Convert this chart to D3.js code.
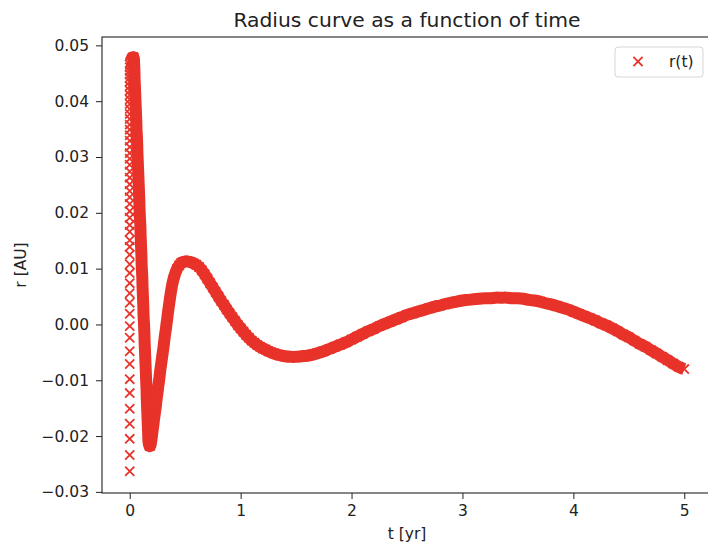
<!DOCTYPE html>
<html>
<meta charset="utf-8">
<head>
    <script src="https://d3js.org/d3.v7.min.js"></script>
</head>

<style>
  body { margin: 0; background: #fff; }
  svg text {
  font-family: "DejaVu Sans", sans-serif;
  fill: #222;
  }
  svg .tick line { stroke: #222; }
  svg .tick text { font-size: 15.5px; }
  svg .marker {
  fill: none;
  stroke: #e8332a;
  stroke-width: 1.8;
  }
  svg .band {
  fill: none;
  stroke: #e8332a;
  stroke-width: 12;
  stroke-linejoin: round;
  }
</style>

<body>
    <script>

        // r [AU] at t = 0, the first steps of the run
        var launchR = [-0.0263, -0.0234, -0.0205, -0.0178, -0.0151, -0.0123, -0.0098, -0.0071, -0.0048, -0.0024,
            -0.0003, 0.0019, 0.0039, 0.0056, 0.0074, 0.0092, 0.0108, 0.0125, 0.0139, 0.0151,
            0.0166, 0.0178, 0.0191, 0.0203, 0.0216, 0.0228, 0.0239, 0.0251, 0.0263, 0.0274,
            0.0286, 0.0297, 0.0307, 0.0318, 0.0329, 0.0339, 0.0349, 0.0358, 0.0368, 0.0377,
            0.0386, 0.0395, 0.0403, 0.0411, 0.0419, 0.0427, 0.0435, 0.0442, 0.0448, 0.0454,
            0.0461, 0.0466];

        // [t, r] over the top of the spike, down into the dip and back up
        var spike = [[0.008, 0.0471], [0.016, 0.0475], [0.025, 0.0478], [0.032, 0.0479], [0.036, 0.0478],
            [0.039, 0.047], [0.041, 0.046], [0.043, 0.045], [0.044, 0.044], [0.046, 0.043], [0.048, 0.042],
            [0.050, 0.041], [0.052, 0.040], [0.054, 0.039], [0.056, 0.038], [0.058, 0.037], [0.060, 0.036],
            [0.061, 0.035], [0.064, 0.034], [0.066, 0.033], [0.068, 0.032], [0.069, 0.031], [0.071, 0.030],
            [0.073, 0.029], [0.075, 0.028], [0.077, 0.027], [0.079, 0.026], [0.081, 0.025], [0.083, 0.024],
            [0.085, 0.023], [0.087, 0.022], [0.088, 0.021], [0.090, 0.020], [0.092, 0.019], [0.095, 0.018],
            [0.097, 0.017], [0.098, 0.016], [0.100, 0.015], [0.102, 0.014], [0.104, 0.013], [0.106, 0.012],
            [0.107, 0.011], [0.109, 0.010], [0.112, 0.009], [0.114, 0.008], [0.115, 0.007], [0.117, 0.006],
            [0.119, 0.005], [0.121, 0.004], [0.123, 0.003], [0.124, 0.002], [0.126, 0.001], [0.129, 0.000],
            [0.131, -0.001], [0.133, -0.002], [0.134, -0.003], [0.136, -0.004], [0.138, -0.005], [0.140, -0.006],
            [0.142, -0.007], [0.144, -0.008], [0.146, -0.009], [0.148, -0.010], [0.150, -0.011], [0.152, -0.012],
            [0.153, -0.013], [0.155, -0.014], [0.157, -0.015], [0.159, -0.016], [0.161, -0.017], [0.163, -0.018],
            [0.165, -0.019], [0.167, -0.020], [0.169, -0.021], [0.174, -0.0215], [0.180, -0.0218], [0.186, -0.0217],
            [0.193, -0.021], [0.200, -0.020], [0.206, -0.019], [0.213, -0.018], [0.219, -0.017], [0.226, -0.016],
            [0.233, -0.015], [0.239, -0.014], [0.245, -0.013], [0.252, -0.012], [0.258, -0.011], [0.265, -0.010],
            [0.271, -0.009], [0.277, -0.008], [0.284, -0.007], [0.291, -0.006], [0.298, -0.005], [0.305, -0.004],
            [0.311, -0.003], [0.317, -0.002], [0.325, -0.001], [0.331, 0.000], [0.338, 0.001], [0.344, 0.002],
            [0.351, 0.003], [0.358, 0.004], [0.365, 0.005], [0.373, 0.006], [0.382, 0.007], [0.393, 0.008],
            [0.408, 0.009], [0.427, 0.010], [0.446, 0.0106], [0.464, 0.0110]];

        // [t, r] for the slow oscillation afterwards
        var tail = [[0.48, 0.0112], [0.50, 0.0113], [0.52, 0.0113], [0.54, 0.0112], [0.56, 0.0111], [0.58, 0.0109],
            [0.60, 0.0107], [0.625, 0.0103], [0.65, 0.0097], [0.675, 0.0090], [0.70, 0.0082], [0.725, 0.0074],
            [0.75, 0.0066], [0.775, 0.0058], [0.80, 0.0050], [0.825, 0.0042], [0.85, 0.0035], [0.875, 0.0027],
            [0.90, 0.0020], [0.925, 0.0013], [0.95, 0.0006], [0.975, -0.0001], [1.00, -0.0007], [1.025, -0.0013],
            [1.05, -0.0019], [1.075, -0.0024], [1.10, -0.0029], [1.125, -0.0033], [1.15, -0.0037], [1.175, -0.0040],
            [1.20, -0.0043], [1.225, -0.0045], [1.25, -0.0048], [1.275, -0.0050], [1.30, -0.0052], [1.35, -0.0055],
            [1.40, -0.0057], [1.45, -0.0058], [1.50, -0.0058], [1.55, -0.0057], [1.60, -0.0056], [1.65, -0.0054],
            [1.70, -0.0051], [1.75, -0.0048], [1.80, -0.0044], [1.85, -0.0040], [1.90, -0.0036], [1.95, -0.0032],
            [2.00, -0.0027], [2.05, -0.0022], [2.10, -0.0017], [2.15, -0.0012], [2.20, -0.0008], [2.25, -0.0003],
            [2.30, 0.0001], [2.35, 0.0005], [2.40, 0.0009], [2.45, 0.0013], [2.50, 0.0017], [2.55, 0.0020],
            [2.60, 0.0023], [2.65, 0.0026], [2.70, 0.0029], [2.75, 0.0032], [2.80, 0.0034], [2.85, 0.0037],
            [2.90, 0.0039], [2.95, 0.0041], [3.00, 0.0043], [3.05, 0.0044], [3.10, 0.0045], [3.15, 0.0046],
            [3.20, 0.0047], [3.25, 0.0047], [3.30, 0.0048], [3.35, 0.0048], [3.40, 0.0048], [3.45, 0.0047],
            [3.50, 0.0047], [3.55, 0.0046], [3.60, 0.0044], [3.65, 0.0043], [3.70, 0.0041], [3.75, 0.0038],
            [3.80, 0.0036], [3.85, 0.0033], [3.90, 0.0030], [3.95, 0.0027], [4.00, 0.0023], [4.05, 0.0019],
            [4.10, 0.0015], [4.15, 0.0011], [4.20, 0.0007], [4.25, 0.0002], [4.30, -0.0002], [4.35, -0.0007],
            [4.40, -0.0012], [4.45, -0.0018], [4.50, -0.0023], [4.55, -0.0029], [4.60, -0.0035], [4.65, -0.0040],
            [4.70, -0.0046], [4.75, -0.0052], [4.80, -0.0058], [4.85, -0.0064], [4.90, -0.0070], [4.95, -0.0076],
            [5.00, -0.0080]];

        var xTicks = [0, 1, 2, 3, 4, 5];
        var yTicks = [-0.03, -0.02, -0.01, 0.00, 0.01, 0.02, 0.03, 0.04, 0.05];

        var width = 708,
            height = 545,
            plotL = 102, plotR = 712, plotT = 37, plotB = 493;

        var svg = d3.select("body").append("svg")
            .attr("width", width)
            .attr("height", height);

        var x = d3.scaleLinear().domain([-0.25, 5.25]).range([plotL, plotR]);
        var y = d3.scaleLinear().domain([-0.0302, 0.0515]).range([plotB, plotT]);

        var points = launchR.map(function(r) { return [0, r]; })
            .concat(spike)
            .concat(tail);

        // the run has thousands of steps after the launch, their markers melt into a solid band
        var band = d3.line()
            .x(function(d) { return x(d[0]); })
            .y(function(d) { return y(d[1]); })
            .curve(d3.curveCatmullRom);

        svg.append("path")
            .attr("class", "band")
            .attr("d", band(spike.concat(tail)));

        var xMark = "M-4.6,-4.6L4.6,4.6M-4.6,4.6L4.6,-4.6";

        svg.append("g").attr("id", "points")
            .selectAll("path")
            .data(points)
            .enter().append("path")
            .attr("class", "marker")
            .attr("d", xMark)
            .attr("transform", function(d) { return "translate(" + x(d[0]) + "," + y(d[1]) + ")"; });

        // axes
        var gx = svg.append("g")
            .attr("transform", "translate(0," + plotB + ")")
            .call(d3.axisBottom(x).tickValues(xTicks).tickFormat(d3.format("d")).tickSize(6).tickPadding(6));
        var gy = svg.append("g")
            .attr("transform", "translate(" + plotL + ",0)")
            .call(d3.axisLeft(y).tickValues(yTicks).tickFormat(d3.format(".2f")).tickSize(6).tickPadding(7));
        gx.select(".domain").remove();
        gy.select(".domain").remove();
        gx.selectAll("text").attr("fill", "#222");
        gy.selectAll("text").attr("fill", "#222");

        svg.append("rect")
            .attr("x", plotL).attr("y", plotT)
            .attr("width", plotR - plotL).attr("height", plotB - plotT)
            .attr("fill", "none")
            .attr("stroke", "#222")
            .attr("stroke-width", 1.1);

        svg.append("text")
            .attr("x", (plotL + plotR) / 2)
            .attr("y", 27)
            .attr("text-anchor", "middle")
            .style("font-size", "20.3px")
            .text("Radius curve as a function of time");

        svg.append("text")
            .attr("x", (plotL + plotR) / 2)
            .attr("y", 539)
            .attr("text-anchor", "middle")
            .style("font-size", "15.5px")
            .text("t [yr]");

        svg.append("text")
            .attr("transform", "translate(26," + (plotT + plotB) / 2 + ") rotate(-90)")
            .attr("text-anchor", "middle")
            .style("font-size", "15.5px")
            .text("r [AU]");

        // legend
        var legend = svg.append("g").attr("transform", "translate(615,47)");
        legend.append("rect")
            .attr("width", 88).attr("height", 30)
            .attr("rx", 3)
            .attr("fill", "#fff")
            .attr("stroke", "#d6d6d6");
        legend.append("path")
            .attr("class", "marker")
            .attr("d", xMark)
            .attr("transform", "translate(23,14.5)");
        legend.append("text")
            .attr("x", 54)
            .attr("y", 20)
            .style("font-size", "15.5px")
            .text("r(t)");
    </script>
</body>
</html>
